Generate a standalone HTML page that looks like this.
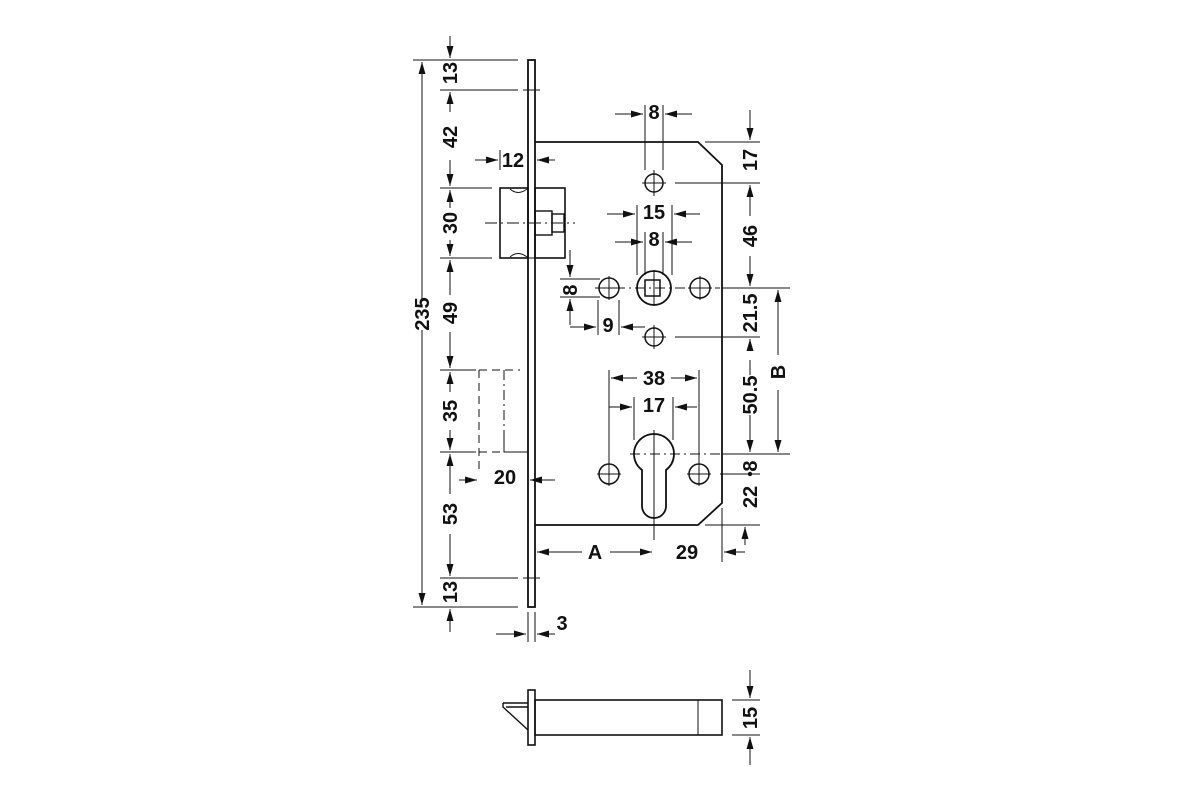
<!DOCTYPE html>
<html><head><meta charset="utf-8"><style>
html,body{margin:0;padding:0;background:#fff;}
svg{display:block;}
text{font-family:"Liberation Sans",sans-serif;font-weight:bold;font-size:20px;fill:#111;}
</style></head><body>
<svg width="1200" height="800" viewBox="0 0 1200 800" xmlns="http://www.w3.org/2000/svg">
<defs>
<marker id="a" viewBox="0 0 12 7" refX="12" refY="3.5" markerWidth="12" markerHeight="7" orient="auto-start-reverse" markerUnits="userSpaceOnUse"><path d="M0,0L12,3.5L0,7z" fill="#111"/></marker>
</defs>
<g stroke="#111" fill="none" stroke-width="1">
<rect x="528" y="60" width="7" height="547" stroke-width="1.8"/>
<path d="M535,142 H698 L722,165 V503 L698,525 H535" stroke-width="1.8"/>
<rect x="500" y="188" width="28" height="70" stroke-width="1.6"/>
<path d="M510,189 Q518,196 527,189 M510,257 Q518,250 527,257"/>
<rect x="535" y="188" width="30" height="70" stroke-width="1.6"/>
<rect x="535" y="211" width="17" height="24" stroke-width="1.4"/>
<rect x="552" y="214" width="12" height="18" stroke-width="1.4"/>
<path d="M485,223 H575" stroke-dasharray="12,4,2,4"/>
<path d="M523,90 H540 M523,578 H540"/>
<circle cx="654" cy="183" r="9" stroke-width="1.5"/>
<circle cx="654" cy="288" r="17" stroke-width="1.8"/>
<rect x="645" y="280" width="15" height="16" stroke-width="1.5"/>
<circle cx="609" cy="288" r="10" stroke-width="1.5"/>
<circle cx="700" cy="288" r="10" stroke-width="1.5"/>
<circle cx="654" cy="337" r="9" stroke-width="1.5"/>
<path d="M595,288 H720" stroke-dasharray="10,4,2,4"/>
<path d="M654,170 V196 M654,270 V306 M609,276 V300 M700,276 V300 M654,325 V349 M642,183 H666 M642,337 H666 M597,288 H621 M688,288 H712"/>
<path d="M642,506 V470 A20,20 0 1 1 666,470 V506 A12,12 0 0 1 642,506 Z" stroke-width="1.8"/>
<circle cx="609" cy="474" r="10" stroke-width="1.5"/>
<circle cx="699" cy="474" r="10" stroke-width="1.5"/>
<path d="M597,474 H621 M687,474 H711 M609,462 V486 M699,462 V486"/>
<path d="M630,454 H720" stroke-dasharray="10,4,2,4"/>
<path d="M654,430 V540"/>
<path d="M479,370 H520 M479,370 V470 M479,452 H504" stroke-dasharray="8,5"/>
<path d="M504,370 V440" stroke-dasharray="10,4,2,4"/>
<path d="M504,440 V452 H528"/>

<path d="M413,60 H518 M440,90 H518 M440,188 H492 M440,258 H492 M440,370 H476 M440,452 H476 M440,578 H518 M413,607 H518"/>
<path d="M422,300 V62" marker-end="url(#a)"/>
<path d="M422,330 V605" marker-end="url(#a)"/>
<path d="M450,36 V58" marker-end="url(#a)"/>
<path d="M450,92 V112" marker-start="url(#a)"/>
<path d="M450,160 V186" marker-end="url(#a)"/>
<path d="M450,190 V208" marker-start="url(#a)"/>
<path d="M450,240 V256" marker-end="url(#a)"/>
<path d="M450,260 V295" marker-start="url(#a)"/>
<path d="M450,332 V368" marker-end="url(#a)"/>
<path d="M450,372 V392" marker-start="url(#a)"/>
<path d="M450,430 V450" marker-end="url(#a)"/>
<path d="M450,454 V494" marker-start="url(#a)"/>
<path d="M450,534 V576" marker-end="url(#a)"/>
<path d="M450,609 V632" marker-start="url(#a)"/>
<path d="M500,150 V170"/>
<path d="M475,160 H498" marker-end="url(#a)"/>
<path d="M555,160 H537" marker-end="url(#a)"/>
<path d="M459,480 H477" marker-end="url(#a)"/>
<path d="M555,480 H530" marker-end="url(#a)"/>
<path d="M528,612 V642 M535,612 V642"/>
<path d="M496,634 H526" marker-end="url(#a)"/>
<path d="M555,634 H537" marker-end="url(#a)"/>
<path d="M560,279 H600 M560,297 H600"/>
<path d="M570,250 V277" marker-end="url(#a)"/>
<path d="M570,325 V299" marker-end="url(#a)"/>
<path d="M565,258 H528"/>
<path d="M598,300 V335 M619,300 V335"/>
<path d="M570,327 H596" marker-end="url(#a)"/>
<path d="M645,327 H621" marker-end="url(#a)"/>
<path d="M645,105 V170 M663,105 V170"/>
<path d="M615,114 H643" marker-end="url(#a)"/>
<path d="M692,114 H665" marker-end="url(#a)"/>
<path d="M637,205 V275 M672,205 V275"/>
<path d="M607,214 H635" marker-end="url(#a)"/>
<path d="M700,214 H674" marker-end="url(#a)"/>
<path d="M645,232 V275 M663,232 V275"/>
<path d="M615,242 H643" marker-end="url(#a)"/>
<path d="M692,242 H665" marker-end="url(#a)"/>
<path d="M609,370 V465 M699,370 V465"/>
<path d="M637,378 H611" marker-end="url(#a)"/>
<path d="M671,378 H697" marker-end="url(#a)"/>
<path d="M634,397 V440 M673,397 V440"/>
<path d="M609,407 H632" marker-end="url(#a)"/>
<path d="M697,407 H675" marker-end="url(#a)"/>
<path d="M705,142 H760 M675,183 H760 M722,288 H790 M675,337 H760 M722,454 H790 M720,474 H760 M705,525 H760 M722,508 V562"/>
<path d="M750,110 V140" marker-end="url(#a)"/>
<path d="M750,216 V185" marker-end="url(#a)"/>
<path d="M750,256 V286" marker-end="url(#a)"/>
<path d="M750,350 V339" marker-end="url(#a)"/>
<path d="M750,360 V375"/>
<path d="M750,415 V452" marker-end="url(#a)"/>
<path d="M778,355 V290" marker-end="url(#a)"/>
<path d="M778,390 V452" marker-end="url(#a)"/>
<path d="M745,545 V527" marker-end="url(#a)"/>
<path d="M745,552 H724" marker-end="url(#a)"/>
<path d="M582,552 H537" marker-end="url(#a)"/>
<path d="M610,552 H652" marker-end="url(#a)"/>
<path d="M535,530 V560"/>

<rect x="528" y="690" width="7" height="55" stroke-width="1.6"/>
<rect x="535" y="700" width="187" height="35" stroke-width="1.6"/>
<path d="M698,700 V735"/>
<path d="M503,703 H528 M503,703 V707 L528,730 M506,707 H528" stroke-width="1.4"/>
<path d="M732,700 H760 M732,735 H760"/>
<path d="M750,670 V698" marker-end="url(#a)"/>
<path d="M750,765 V737" marker-end="url(#a)"/>
</g>
<circle cx="750" cy="474" r="2.2" fill="#111"/>
<g text-anchor="middle">
<text x="513" y="167">12</text>
<text x="654" y="119">8</text>
<text x="654" y="219">15</text>
<text x="654" y="246">8</text>
<text x="608" y="332">9</text>
<text x="654" y="385">38</text>
<text x="654" y="412">17</text>
<text x="505" y="484">20</text>
<text x="595" y="559">A</text>
<text x="687" y="559">29</text>
<text x="562" y="630">3</text>
</g>
<g text-anchor="middle">
<text transform="translate(457,73) rotate(-90)">13</text>
<text transform="translate(457,137) rotate(-90)">42</text>
<text transform="translate(457,223) rotate(-90)">30</text>
<text transform="translate(457,313) rotate(-90)">49</text>
<text transform="translate(457,411) rotate(-90)">35</text>
<text transform="translate(457,514) rotate(-90)">53</text>
<text transform="translate(457,592) rotate(-90)">13</text>
<text transform="translate(429,314) rotate(-90)">235</text>
<text transform="translate(577,290) rotate(-90)">8</text>
<text transform="translate(757,160) rotate(-90)">17</text>
<text transform="translate(757,236) rotate(-90)">46</text>
<text transform="translate(757,313) rotate(-90)">21.5</text>
<text transform="translate(757,395) rotate(-90)">50.5</text>
<text transform="translate(757,466) rotate(-90)">8</text>
<text transform="translate(757,497) rotate(-90)">22</text>
<text transform="translate(785,372) rotate(-90)">B</text>
<text transform="translate(757,718) rotate(-90)">15</text>
</g>
</svg>
</body></html>
